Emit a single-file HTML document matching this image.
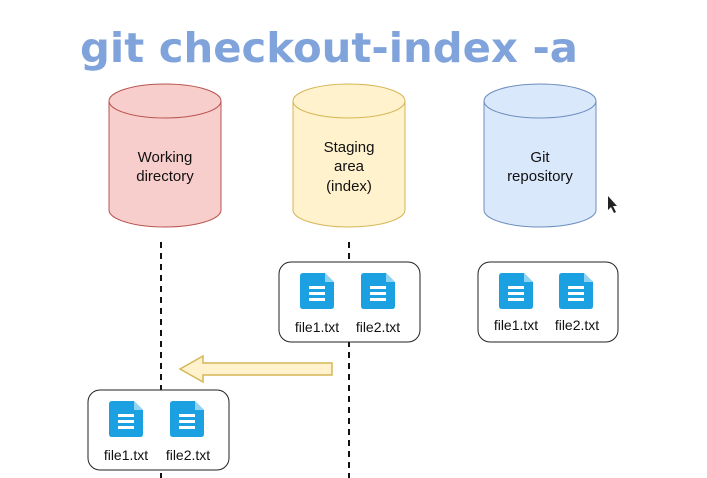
<!DOCTYPE html>
<html><head><meta charset="utf-8"><style>
html,body{margin:0;padding:0;background:#fff;width:707px;height:478px;overflow:hidden}
</style></head><body>
<svg width="707" height="478" viewBox="0 0 707 478" xmlns="http://www.w3.org/2000/svg">
<defs>
<g id="doc">
<path d="M3 0 H25 L34 9 V33 Q34 36 31 36 H3 Q0 36 0 33 V3 Q0 0 3 0Z" fill="#1ba1e2"/>
<path d="M25 0 V9 H34Z" fill="#8fd3f5"/>
<rect x="9" y="13" width="16" height="3" fill="#fff"/>
<rect x="9" y="19" width="16" height="3" fill="#fff"/>
<rect x="9" y="25" width="16" height="3" fill="#fff"/>
</g>
</defs>
<text x="80" y="62" font-family="'Comic Sans MS','DejaVu Sans',sans-serif" font-weight="bold" font-size="41" fill="#7fa3da" textLength="498" lengthAdjust="spacingAndGlyphs">git checkout-index -a</text>

<g stroke-width="1">
<path d="M109 101 V210 A56 17 0 0 0 221 210 V101 A56 17 0 0 0 109 101Z" fill="#f8cecc" stroke="#b85450"/>
<path d="M109 101 A56 17 0 0 0 221 101" fill="none" stroke="#b85450"/>
<path d="M293 101 V210 A56 17 0 0 0 405 210 V101 A56 17 0 0 0 293 101Z" fill="#fff2cc" stroke="#d6b656"/>
<path d="M293 101 A56 17 0 0 0 405 101" fill="none" stroke="#d6b656"/>
<path d="M484 101 V210 A56 17 0 0 0 596 210 V101 A56 17 0 0 0 484 101Z" fill="#dae8fc" stroke="#6c8ebf"/>
<path d="M484 101 A56 17 0 0 0 596 101" fill="none" stroke="#6c8ebf"/>
</g>
<g font-family="'Liberation Sans',sans-serif" font-size="15" fill="#111" text-anchor="middle">
<text x="165" y="162">Working</text><text x="165" y="181">directory</text>
<text x="349" y="152">Staging</text><text x="349" y="171">area</text><text x="349" y="191">(index)</text>
<text x="540" y="162">Git</text><text x="540" y="181">repository</text>
</g>

<g stroke="#111" stroke-width="2" stroke-dasharray="6,5">
<line x1="161" y1="242" x2="161" y2="478"/>
<line x1="349" y1="242" x2="349" y2="478"/>
</g>

<g fill="#fff" stroke="#222" stroke-width="1">
<rect x="279" y="262" width="141" height="80" rx="12"/>
<rect x="478" y="262" width="140" height="80" rx="12"/>
<rect x="88" y="390" width="141" height="80" rx="12"/>
</g>

<use href="#doc" x="300" y="273"/><use href="#doc" x="361" y="273"/>
<use href="#doc" x="499" y="273"/><use href="#doc" x="559" y="273"/>
<use href="#doc" x="109" y="401"/><use href="#doc" x="170" y="401"/>

<g font-family="'Liberation Sans',sans-serif" font-size="14" fill="#111" text-anchor="middle">
<text x="317" y="332">file1.txt</text><text x="378" y="332">file2.txt</text>
<text x="516" y="330">file1.txt</text><text x="577" y="330">file2.txt</text>
<text x="126" y="460">file1.txt</text><text x="188" y="460">file2.txt</text>
</g>

<path d="M332 363 H203 V356 L180 369 L203 382 V375 H332Z" fill="#fff2cc" stroke="#d6b656" stroke-width="1.5"/>

<path d="M608 196 L608 210 L611 207 L614 213 L616 212 L613 206 L617 206Z" fill="#222"/>
</svg>
</body></html>
